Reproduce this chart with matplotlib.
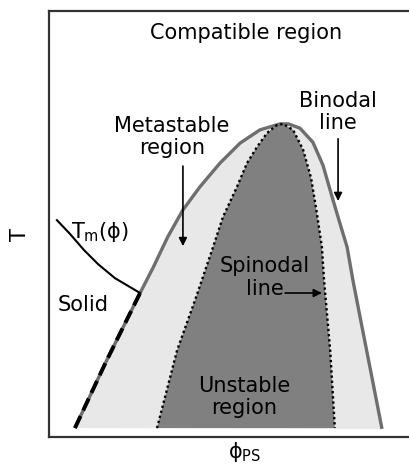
import matplotlib
matplotlib.use("Agg")
import matplotlib.pyplot as plt

plt.rcParams['font.family'] = ['DejaVu Sans']
plt.rcParams['mathtext.default'] = 'regular'

binodal_phi = [0.072, 0.158, 0.253, 0.290, 0.330, 0.372, 0.419, 0.475, 0.531, 0.586,
               0.642, 0.665, 0.697, 0.733, 0.761, 0.789, 0.808, 0.828, 0.844, 0.864,
               0.894, 0.925]
binodal_T = [0.021, 0.176, 0.338, 0.399, 0.470, 0.533, 0.587, 0.643, 0.690, 0.721,
             0.735, 0.735, 0.725, 0.692, 0.638, 0.556, 0.502, 0.446, 0.369, 0.282,
             0.153, 0.019]

# spinodal line
spinodal_phi = [0.300, 0.356, 0.406, 0.453, 0.483, 0.522, 0.550, 0.578, 0.606, 0.633,
                0.650, 0.678, 0.706, 0.728, 0.744, 0.758, 0.764, 0.781, 0.794]
spinodal_T = [0.021, 0.204, 0.322, 0.439, 0.516, 0.587, 0.643, 0.681, 0.714, 0.732,
              0.735, 0.721, 0.674, 0.608, 0.526, 0.446, 0.369, 0.204, 0.021]

# melting line Tm(phi), ends on the binodal
tm_phi = [0.022, 0.058, 0.097, 0.136, 0.183, 0.253]
tm_T = [0.509, 0.477, 0.439, 0.406, 0.373, 0.338]

# part of the binodal below the Tm junction (dashed)
solid_phi = binodal_phi[:3]
solid_T = binodal_T[:3]

fig = plt.figure(figsize=(4.09, 4.72), dpi=100)
ax = fig.add_axes([49 / 409, 35 / 472, 360 / 409, 426 / 472])
ax.set_xlim(0, 1)
ax.set_ylim(0, 1)

ax.fill(binodal_phi, binodal_T, color='#e8e8e8', lw=0, zorder=1)
ax.fill(spinodal_phi, spinodal_T, color='#808080', lw=0, zorder=2)
ax.plot(binodal_phi, binodal_T, color='#6e6e6e', lw=2.4, solid_capstyle='butt',
        solid_joinstyle='round', zorder=3)
ax.plot(spinodal_phi, spinodal_T, color='black', lw=1.7, ls=(0, (1, 1.2)), zorder=4)
ax.plot(solid_phi, solid_T, color='black', lw=2.8, ls=(0, (3.4, 1.6)), zorder=5)
ax.plot(tm_phi, tm_T, color='black', lw=1.5, solid_joinstyle='round', zorder=5)

fs = 15
ax.text(0.547, 0.948, 'Compatible region', ha='center', va='center', fontsize=fs)
ax.text(0.342, 0.704, 'Metastable\nregion', ha='center', va='center', fontsize=fs,
        linespacing=1.15)
ax.text(0.803, 0.763, 'Binodal\nline', ha='center', va='center', fontsize=fs,
        linespacing=1.15)
ax.text(0.062, 0.481, 'T$_{m}$(ϕ)', ha='left', va='center', fontsize=fs)
ax.text(0.094, 0.310, 'Solid', ha='center', va='center', fontsize=fs)
ax.text(0.600, 0.374, 'Spinodal\nline', ha='center', va='center', fontsize=fs,
        linespacing=1.15, zorder=6)
ax.text(0.542, 0.094, 'Unstable\nregion', ha='center', va='center', fontsize=fs,
        linespacing=1.15, zorder=6)

arrow = dict(arrowstyle='-|>', color='black', lw=1.2, mutation_scale=12,
             shrinkA=0, shrinkB=0)
ax.annotate('', xy=(0.372, 0.448), xytext=(0.372, 0.636), arrowprops=arrow, zorder=6)
ax.annotate('', xy=(0.803, 0.554), xytext=(0.803, 0.700), arrowprops=arrow, zorder=6)
ax.annotate('', xy=(0.758, 0.338), xytext=(0.656, 0.338), arrowprops=arrow, zorder=6)

for s in ['left', 'top', 'bottom']:
    ax.spines[s].set_linewidth(1.6)
    ax.spines[s].set_color('#333333')
ax.spines['right'].set_visible(False)
ax.set_xticks([])
ax.set_yticks([])

fig.text(20 / 409, 1 - 235 / 472, 'T', rotation=90, ha='center', va='center', fontsize=fs)
fig.text(245 / 409, 1 - 452 / 472, 'ϕ$_{PS}$', ha='center', va='center', fontsize=fs)

fig.savefig('out.png', dpi=100)
